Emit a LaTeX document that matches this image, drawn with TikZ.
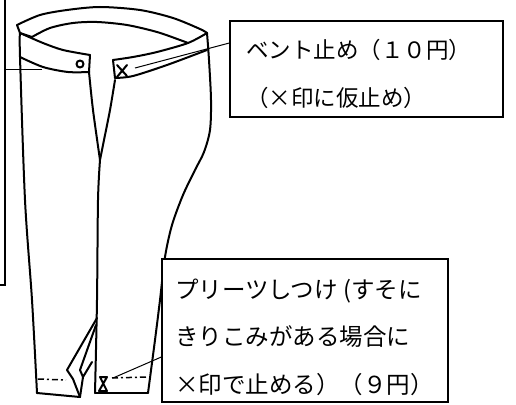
\documentclass[tikz,border=0pt]{standalone}
\usepackage{fontspec}
\newfontfamily\jp{Noto Sans CJK JP}
\tikzset{
  pant/.style={line width=2pt, line join=round, line cap=round},
  box/.style={draw, line width=1.3pt, fill=white, inner sep=0pt},
  leader/.style={line width=1pt},
  txt/.style={font=\jp\fontsize{22.5}{22.5}\selectfont, anchor=base west, inner sep=0pt},
  cuffdash/.style={line width=1.5pt, dash pattern=on 6pt off 3pt on 2pt off 3pt}
}
\begin{document}
\begin{tikzpicture}[x=1pt,y=-1pt]
\useasboundingbox (0,0) rectangle (516,404);
\clip (0,0) rectangle (516,404);
\fill[white] (0,0) rectangle (516,404);
% ---- left box (mostly outside the picture)
\node[box, minimum width=80pt, minimum height=310pt] (lbox) at (-35,130) {};
% ---- waistband
\draw[pant] plot[smooth] coordinates {(17,25) (40,15) (67,10) (100,7) (140,10) (173,18) (200,29) (207,33)};
\draw[pant] (17,25) -- (20,33) -- (32,37);
\draw[pant] plot[smooth] coordinates {(32,37) (50,28) (73,23) (97,22) (127,25) (157,32) (180,40) (188,43)};
\draw[pant] plot[smooth] coordinates {(20,33) (43,43) (63,50) (90,55)};
\draw[pant] (90,55) -- (89,72);
\draw[pant] plot[smooth] coordinates {(20,57) (43,67) (68,72) (89,72)};
\draw[pant] plot[smooth] coordinates {(113,60) (133,57) (157,52) (188,43) (207,33)};
\draw[pant] (113,60) -- (115,78);
\draw[pant] plot[smooth] coordinates {(115,78) (133,76) (167,65) (207,50)};
% button and tack mark
\draw[pant] (80,64) circle (3.5);
\draw[pant] (117,65) -- (127,76) (127,65) -- (117,77);
% ---- fly and centre line
\draw[pant] plot[smooth] coordinates {(89,72) (93,110) (100,160)};
\draw[pant] plot[smooth] coordinates {(115,80) (110,110) (104,140) (100,160)};
\draw[pant] plot[smooth] coordinates {(100,160) (98,200) (97,300) (95,393)};
% ---- outer leg lines
\draw[pant] plot[smooth] coordinates {(20,33) (20,57) (25,200) (32,300) (37,393)};
\draw[pant] plot[smooth] coordinates {(207,33) (209,60) (211,100) (210,130) (204,152) (195,170) (183,195) (172,225) (165,257) (160,300) (155,340) (148,393)};
% ---- left cuff and pleat
\draw[cuffdash] (38,379) -- (66,380);
\draw[pant] (37,393) -- (80,397);
\draw[pant] (97,318) -- (67,370) -- (73,379) -- (80,397);
\draw[pant] (96,325) -- (80,370) -- (83,377) -- (92,362);
\draw[pant] (83,377) -- (80,397);
% ---- right cuff
\draw[pant] (95,393) -- (148,393);
\draw[cuffdash] (112,378) -- (147,377);
\draw[pant] (100,377) -- (107,377) -- (99,391) -- (107,391) -- cycle;
% ---- label boxes
\node[box, minimum width=273pt, minimum height=96pt] (vbox) at (366.5,69) {};
\node[txt] (v1) at (246,58.5) {ベント止め（１０円）};
\node[txt] (v2) at (246,106.5) {（×印に仮止め）};
\node[box, minimum width=286pt, minimum height=143pt] (pbox) at (305,330.5) {};
\node[txt, font=\jp\fontsize{23.5}{23.5}\selectfont] (p1) at (175,298.7) {プリーツしつけ (すそに};
\node[txt, font=\jp\fontsize{23.5}{23.5}\selectfont] (p2) at (175,345.7) {きりこみがある場合に};
\node[txt, font=\jp\fontsize{23.5}{23.5}\selectfont] (p3) at (175,393.7) {×印で止める）（９円）};
% ---- leaders
\coordinate (btn) at (42,69);
\coordinate (tack) at (135,68);
\coordinate (pleat) at (113,378);
\draw[leader] (lbox.east |- btn) -- (btn);
\draw[leader] (vbox.west |- 0,43) -- (tack);
\draw[leader] (pbox.west |- 0,357) -- (pleat);
\end{tikzpicture}
\end{document}
